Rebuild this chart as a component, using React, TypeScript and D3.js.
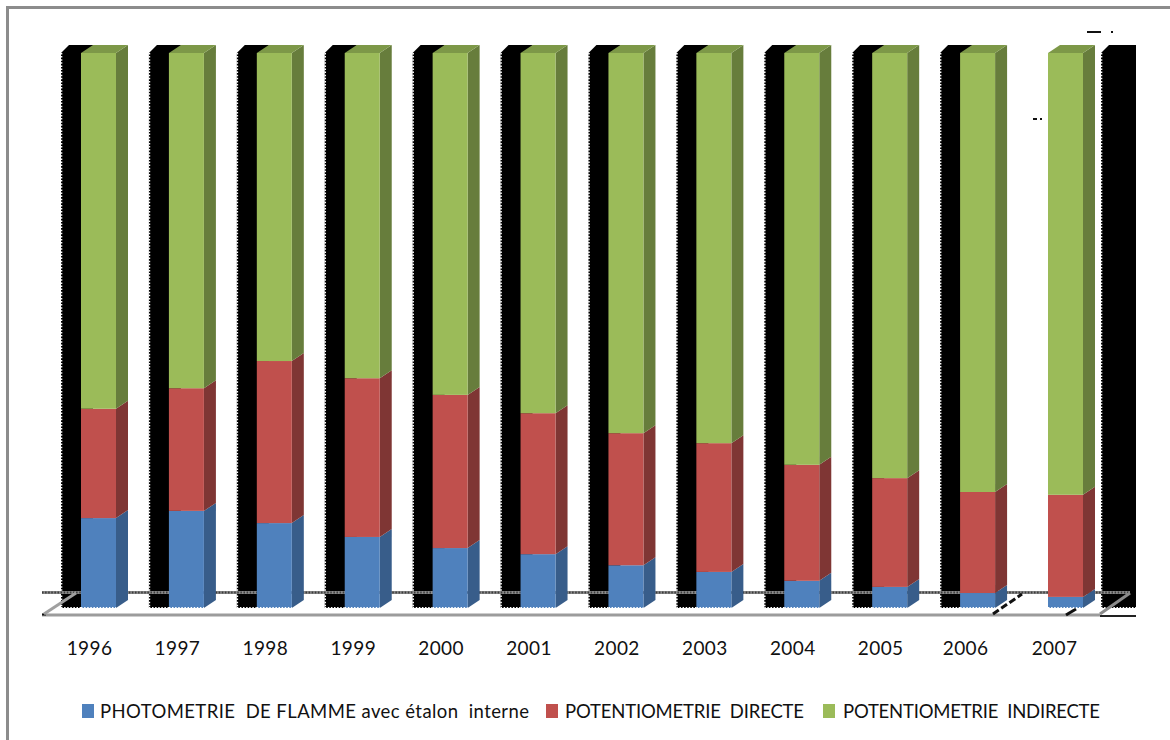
import React from "react";
import * as d3 from "d3";

// Yearly share of each sodium assay method, in percent.
const years = ["1996","1997","1998","1999","2000","2001","2002","2003","2004","2005","2006","2007"];
const flamme = [16.2,17.5,15.3,12.8,10.8,9.7,7.7,6.5,4.9,3.8,2.7,2.0];
const directe = [19.7,22.1,29.2,28.6,27.6,25.4,23.8,23.2,20.9,19.6,18.2,18.4];
const indirecte = [64.1,60.4,55.5,58.6,61.6,64.9,68.5,70.3,74.2,76.6,79.1,79.6];

const seriesNames = [
  "PHOTOMETRIE  DE FLAMME avec étalon  interne",
  "POTENTIOMETRIE  DIRECTE",
  "POTENTIOMETRIE  INDIRECTE",
];
const front = ["#4f81bd", "#c0504d", "#9bbb59"];
const side = ["#385d8a", "#7f3634", "#677d3c"];
const top = ["#426a9e", "#a04341", "#7d9848"];

const W = 1170, H = 740;
const depthX = 12, depthY = 8, barW = 35;
const yBase = 608, yTop = 53;
const font = "Lato, 'Open Sans', sans-serif";

const x = d3.scaleLinear().domain([0, 11]).range([81, 1048]);
const y = d3.scaleLinear().domain([0, 100]).range([yBase, yTop]);

const rows = years.map((year, i) => ({
  year,
  flamme: flamme[i],
  directe: directe[i],
  indirecte: indirecte[i],
}));
const stacked = d3.stack<any>().keys(["flamme", "directe", "indirecte"])(rows);

const pts = (p: number[][]) => d3.line()(p as [number, number][]) + "Z";

// Rough dark backing block standing behind a column, with its nibbled edges.
function Backing({ x0, w }: { x0: number; w: number }) {
  return (
    <g>
      <path
        d={pts([[x0, yTop], [x0 + 8, yTop - 8], [x0 + w, yTop - 8], [x0 + w, yBase], [x0, yBase]])}
        fill="#000"
      />
      <line x1={x0 + 0.5} x2={x0 + 0.5} y1={yTop} y2={yBase} stroke="#fff" strokeWidth={1.6} strokeDasharray="1.5 1.6" />
      <line x1={x0} x2={x0 + w} y1={yBase - 0.3} y2={yBase - 0.3} stroke="#fff" strokeWidth={1.6} strokeDasharray="1.5 1.6" />
    </g>
  );
}

export default function App() {
  const legendX = [82, 546, 823];
  const legendText = [100, 565, 843];
  const legendLen = [429, 239, 257];
  const labelShift = (i: number) => (i === 10 ? 5.5 : i === 11 ? 6.5 : 8.5);
  return (
    <svg
      width={W}
      height={H}
      viewBox={`0 0 ${W} ${H}`}
      style={{ position: "fixed", left: 0, top: 0, background: "#fff" }}
    >
      {/* outer frame */}
      <path d={`M7.5 ${H}V7.5H${W}`} fill="none" stroke="#8c8c8c" strokeWidth={3} />

      {/* backing blocks */}
      {years.slice(0, 11).map((yr, i) => (
        <Backing key={yr} x0={x(i) - 20} w={32} />
      ))}
      <Backing x0={1101} w={35} />

      {/* floor of the 3D plot */}
      <g fill="none" strokeLinecap="butt">
        <line x1={42} x2={1130} y1={592.5} y2={592.5} stroke="#8a8a8a" strokeWidth={3} />
        <line x1={42} x2={1130} y1={592.5} y2={592.5} stroke="#222" strokeWidth={2} strokeDasharray="1.5 1.6" opacity={0.75} />
        <line x1={42} x2={1100} y1={615} y2={615} stroke="#9c9c9c" strokeWidth={3} />
        <line x1={1100} x2={1136} y1={616} y2={616} stroke="#222" strokeWidth={2} />
        <line x1={42} x2={46} y1={614.5} y2={614.5} stroke="#111" strokeWidth={2} />
        <line x1={44} x2={76} y1={614} y2={593} stroke="#a0a0a0" strokeWidth={3} />
        <line x1={1100} x2={1130} y1={614} y2={593} stroke="#8a8a8a" strokeWidth={3} />
        <line x1={993} x2={1022} y1={614} y2={594} stroke="#111" strokeWidth={3} strokeDasharray="7 3" />
        <line x1={1066} x2={1076} y1={615} y2={609} stroke="#111" strokeWidth={3} />
      </g>

      {/* stacked columns */}
      {rows.map((r, i) => {
        const xl = x(i);
        const xr = xl + barW;
        return (
          <g key={r.year}>
            {stacked.map((s, k) => {
              const y0 = y(s[i][0]);
              const y1 = y(s[i][1]);
              return (
                <g key={s.key}>
                  <path
                    d={pts([[xr, y0], [xr + depthX, y0 - depthY], [xr + depthX, y1 - depthY], [xr, y1]])}
                    fill={side[k]}
                  />
                  <rect x={xl} y={y1} width={barW} height={y0 - y1} fill={front[k]} />
                  {k === 2 && (
                    <path
                      d={pts([[xl, y1], [xl + depthX, y1 - depthY], [xr + depthX, y1 - depthY], [xr, y1]])}
                      fill={top[k]}
                    />
                  )}
                </g>
              );
            })}
            <line x1={xl} x2={xr} y1={yBase - 0.3} y2={yBase - 0.3} stroke="#fff" strokeWidth={1.4} strokeDasharray="1.5 1.6" />
          </g>
        );
      })}

      {/* stray marks near the top right */}
      <g fill="#111">
        <rect x={1087} y={31} width={14} height={2} />
        <rect x={1111} y={31} width={2} height={2} />
        <rect x={1033} y={118} width={4} height={2} />
        <rect x={1040} y={118} width={2} height={2} />
      </g>

      {/* year labels */}
      <g fontFamily={font} fontSize={19} fill="#111" textAnchor="middle" letterSpacing={0.4}>
        {years.map((yr, i) => (
          <text key={yr} x={x(i) + labelShift(i)} y={655}>{yr}</text>
        ))}
      </g>

      {/* legend */}
      {seriesNames.map((name, k) => (
        <g key={name}>
          <rect x={legendX[k]} y={704} width={12} height={14} fill={front[k]} />
          <text
            x={legendText[k]}
            y={717.5}
            fontFamily={font}
            fontSize={18.5}
            fill="#111"
            textLength={legendLen[k]}
            lengthAdjust="spacing"
            style={{ whiteSpace: "pre" }}
          >
            {name}
          </text>
        </g>
      ))}
    </svg>
  );
}
